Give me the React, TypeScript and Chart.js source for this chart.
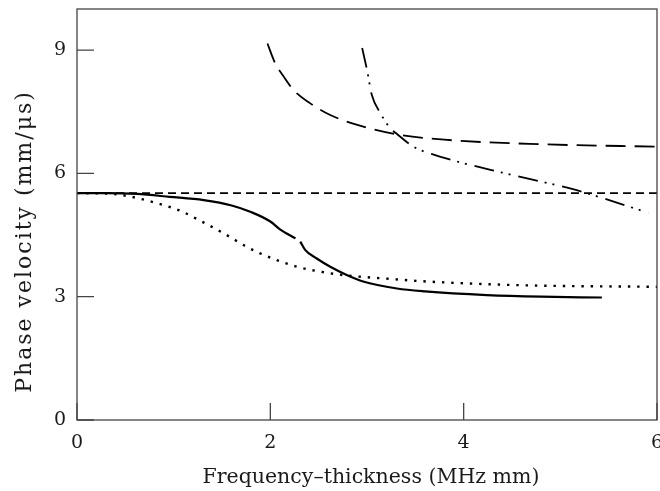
import React, { useEffect, useRef } from "react";
import { Chart, registerables } from "chart.js";

Chart.register(...registerables);

const xTickValues = [0, 2, 4, 6];
const yTickValues = [0, 3, 6, 9];

const xTitle = "Frequency–thickness (MHz mm)";
const yTitle = "Phase velocity (mm/μs)";

// horizontal reference line
const flatX = [0, 6];
const flatY = [5.52, 5.52];

// solid curve (with a small break)
const solidX = [0, 0.3, 0.62, 0.96, 1.31, 1.6, 1.8, 2.0, 2.1, 2.26, 2.285, 2.31, 2.36, 2.48, 2.62, 2.79, 2.96, 3.31, 3.6, 4.24, 4.8, 5.43];
const solidY = [5.52, 5.52, 5.5, 5.43, 5.35, 5.22, 5.06, 4.83, 4.64, 4.42, null, 4.34, 4.14, 3.93, 3.73, 3.53, 3.37, 3.2, 3.13, 3.04, 3.0, 2.98];

// dotted curve
const dottedX = [0, 0.3, 0.52, 0.79, 1.07, 1.24, 1.41, 1.585, 1.75, 2.0, 2.275, 2.62, 2.86, 3.14, 3.62, 4.58, 6.0];
const dottedY = [5.52, 5.51, 5.45, 5.3, 5.09, 4.89, 4.68, 4.45, 4.22, 3.95, 3.73, 3.57, 3.5, 3.45, 3.37, 3.28, 3.24];

// long-dashed curve
const longDashX = [1.97, 2.05, 2.14, 2.24, 2.41, 2.62, 2.9, 3.31, 3.8, 4.79, 6.0];
const longDashY = [9.16, 8.68, 8.35, 8.03, 7.71, 7.42, 7.18, 6.95, 6.82, 6.71, 6.65];

// dash-dot-dot curve
const dashDotX = [2.95, 3.0, 3.05, 3.14, 3.24, 3.31, 3.48, 3.8, 4.45, 5.14, 5.45, 5.91];
const dashDotY = [9.05, 8.52, 7.91, 7.46, 7.1, 6.96, 6.65, 6.38, 5.99, 5.61, 5.39, 5.04];

const toPoints = (xs: number[], ys: (number | null)[]) => xs.map((x, i) => ({ x, y: ys[i] }));

const FONT = "'DejaVu Serif', 'Liberation Serif', serif";
const AXIS_COLOR = "#444";
const TEXT_COLOR = "#1a1a1a";

const framePlugin = {
  id: "frame",
  afterDatasetsDraw(chart: any) {
    const { ctx, chartArea } = chart;
    const xs = chart.scales.x;
    const ys = chart.scales.y;
    ctx.save();
    ctx.strokeStyle = AXIS_COLOR;
    ctx.lineWidth = 1.3;
    ctx.strokeRect(chartArea.left, chartArea.top, chartArea.right - chartArea.left, chartArea.bottom - chartArea.top);
    ctx.beginPath();
    xs.ticks.forEach((t: any) => {
      const px = xs.getPixelForValue(t.value);
      ctx.moveTo(px, chartArea.bottom);
      ctx.lineTo(px, chartArea.bottom - 17);
    });
    ys.ticks.forEach((t: any) => {
      const py = ys.getPixelForValue(t.value);
      ctx.moveTo(chartArea.left, py);
      ctx.lineTo(chartArea.left + 17, py);
    });
    ctx.stroke();

    ctx.fillStyle = TEXT_COLOR;
    ctx.textAlign = "center";
    ctx.textBaseline = "alphabetic";
    // x axis title
    ctx.font = `20.5px ${FONT}`;
    (ctx as any).letterSpacing = "0px";
    ctx.fillText(xTitle, (chartArea.left + chartArea.right) / 2 + 4, 483);
    // y axis title
    const cy = (chartArea.top + chartArea.bottom) / 2 + 28;
    ctx.translate(31, cy);
    ctx.rotate(-Math.PI / 2);
    ctx.font = `22px ${FONT}`;
    (ctx as any).letterSpacing = "2px";
    ctx.fillText(yTitle, 1, 0);
    ctx.restore();
  },
};

export default function App() {
  const ref = useRef<HTMLCanvasElement | null>(null);
  useEffect(() => {
    if (!ref.current) return;
    const base = { pointRadius: 0, borderColor: "#000", fill: false, cubicInterpolationMode: "monotone" as const, spanGaps: false };
    const chart = new Chart(ref.current, {
      type: "line",
      data: {
        datasets: [
          { ...base, label: "flat", data: toPoints(flatX, flatY), borderWidth: 1.8, borderDash: [8, 5] },
          { ...base, label: "solid", data: toPoints(solidX, solidY), borderWidth: 2.2 },
          { ...base, label: "dotted", data: toPoints(dottedX, dottedY), borderWidth: 2.4, borderDash: [2.4, 6.9] },
          { ...base, label: "longdash", data: toPoints(longDashX, longDashY), borderWidth: 1.8, borderDash: [20, 9] },
          { ...base, label: "dashdot", data: toPoints(dashDotX, dashDotY), borderWidth: 1.8, borderDash: [20, 7, 2, 6, 2, 8] },
        ] as any,
      },
      options: {
        animation: false,
        responsive: false,
        maintainAspectRatio: false,
        layout: { padding: { left: 0, top: 9, right: 3, bottom: 0 } },
        plugins: { legend: { display: false }, tooltip: { enabled: false } },
        scales: {
          x: {
            type: "linear",
            min: 0,
            max: 6,
            grid: { display: false, drawTicks: false },
            border: { display: false },
            afterBuildTicks: (s: any) => {
              s.ticks = xTickValues.map((v) => ({ value: v }));
            },
            afterFit: (s: any) => {
              s.height = 71;
              s.paddingLeft = 0;
              s.paddingRight = 0;
            },
            ticks: { color: TEXT_COLOR, font: { family: FONT, size: 19 }, padding: 12, maxRotation: 0 },
            title: { display: false },
          },
          y: {
            type: "linear",
            min: 0,
            max: 10,
            grid: { display: false, drawTicks: false },
            border: { display: false },
            afterBuildTicks: (s: any) => {
              s.ticks = yTickValues.map((v) => ({ value: v }));
            },
            afterFit: (s: any) => {
              s.width = 77;
              s.paddingTop = 0;
              s.paddingBottom = 0;
            },
            ticks: { color: TEXT_COLOR, font: { family: FONT, size: 19 }, padding: 11 },
          },
        },
      },
      plugins: [framePlugin],
    });
    return () => chart.destroy();
  }, []);
  return (
    <div style={{ position: "fixed", left: 0, top: 0, width: 660, height: 491, background: "#fff" }}>
      <canvas ref={ref} width={660} height={491} style={{ width: 660, height: 491, display: "block" }} />
    </div>
  );
}
